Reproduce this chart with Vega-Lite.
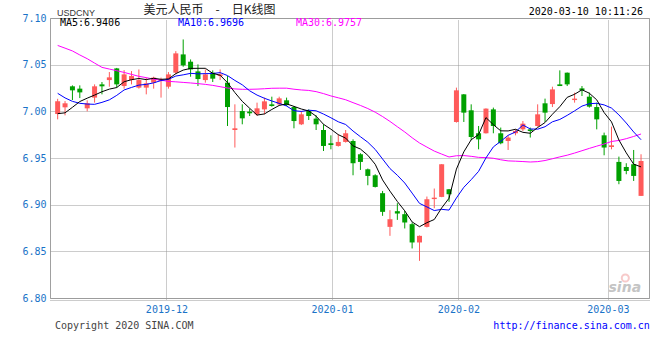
{
"$schema": "https://vega.github.io/schema/vega-lite/v6.json",
"width": 599, "height": 280,
"autosize": {"type": "none"},
"padding": {"left": 50, "top": 18, "right": 11, "bottom": 62},
"background": "white",
"config": {
"view": {"stroke": "#a0a0a0", "strokeWidth": 1},
"axisX": {"labelColor": "#1a73c8", "labelFont": "DejaVu Sans Mono", "labelFontSize": 10, "labelFlush": false, "labelPadding": 4, "ticks": false, "tickSize": 0, "domain": true, "domainDash": [1, 1], "domainColor": "#999999", "offset": 2, "grid": true, "gridDash": [1, 1], "gridColor": "#999999"},
"axisY": {"labelColor": "#1a73c8", "labelFont": "DejaVu Sans Mono", "labelFontSize": 10, "labelPadding": 4, "ticks": false, "tickSize": 0, "domain": false, "grid": true, "gridDash": [1, 1], "gridColor": "#999999"}
},
"datasets": {
"k": [
{"i":1,"o":6.9971,"h":7.0134,"l":6.9914,"c":7.0107,"ma5":6.9975,"ma10":7.0193,"ma30":7.0706},
{"i":2,"o":7.0043,"h":7.0110,"l":6.9957,"c":7.0086,"ma5":6.9984,"ma10":7.0144,"ma30":7.0677},
{"i":3,"o":7.0268,"h":7.0278,"l":7.0121,"c":7.0225,"ma5":7.0043,"ma10":7.0107,"ma30":7.0647},
{"i":4,"o":7.0243,"h":7.0278,"l":7.0142,"c":7.0203,"ma5":7.0105,"ma10":7.0086,"ma30":7.0604},
{"i":5,"o":7.0032,"h":7.0118,"l":7.0000,"c":7.0086,"ma5":7.0141,"ma10":7.0078,"ma30":7.0564},
{"i":6,"o":7.0147,"h":7.0289,"l":7.0093,"c":7.0268,"ma5":7.0174,"ma10":7.0075,"ma30":7.0517},
{"i":7,"o":7.0289,"h":7.0314,"l":7.0182,"c":7.0268,"ma5":7.0210,"ma10":7.0096,"ma30":7.0471},
{"i":8,"o":7.0335,"h":7.0421,"l":7.0264,"c":7.0364,"ma5":7.0238,"ma10":7.0123,"ma30":7.0453},
{"i":9,"o":7.0460,"h":7.0465,"l":7.0254,"c":7.0289,"ma5":7.0255,"ma10":7.0171,"ma30":7.0435},
{"i":10,"o":7.0271,"h":7.0442,"l":7.0243,"c":7.0396,"ma5":7.0317,"ma10":7.0229,"ma30":7.0417},
{"i":11,"o":7.0335,"h":7.0431,"l":7.0289,"c":7.0378,"ma5":7.0339,"ma10":7.0256,"ma30":7.0396},
{"i":12,"o":7.0254,"h":7.0449,"l":7.0243,"c":7.0335,"ma5":7.0352,"ma10":7.0281,"ma30":7.0375},
{"i":13,"o":7.0254,"h":7.0361,"l":7.0182,"c":7.0300,"ma5":7.0340,"ma10":7.0289,"ma30":7.0361},
{"i":14,"o":7.0307,"h":7.0371,"l":7.0243,"c":7.0361,"ma5":7.0354,"ma10":7.0305,"ma30":7.0344},
{"i":15,"o":7.0324,"h":7.0361,"l":7.0147,"c":7.0342,"ma5":7.0343,"ma10":7.0330,"ma30":7.0334},
{"i":16,"o":7.0264,"h":7.0421,"l":7.0243,"c":7.0396,"ma5":7.0347,"ma10":7.0343,"ma30":7.0321},
{"i":17,"o":7.0414,"h":7.0645,"l":7.0396,"c":7.0621,"ma5":7.0404,"ma10":7.0378,"ma30":7.0316},
{"i":18,"o":7.0610,"h":7.0770,"l":7.0478,"c":7.0492,"ma5":7.0442,"ma10":7.0391,"ma30":7.0310},
{"i":19,"o":7.0532,"h":7.0556,"l":7.0371,"c":7.0449,"ma5":7.0460,"ma10":7.0407,"ma30":7.0304},
{"i":20,"o":7.0428,"h":7.0503,"l":7.0271,"c":7.0346,"ma5":7.0461,"ma10":7.0402,"ma30":7.0297},
{"i":21,"o":7.0335,"h":7.0449,"l":7.0307,"c":7.0396,"ma5":7.0461,"ma10":7.0404,"ma30":7.0289},
{"i":22,"o":7.0414,"h":7.0439,"l":7.0314,"c":7.0350,"ma5":7.0407,"ma10":7.0405,"ma30":7.0278},
{"i":23,"o":7.0378,"h":7.0449,"l":7.0335,"c":7.0396,"ma5":7.0387,"ma10":7.0415,"ma30":7.0264},
{"i":24,"o":7.0307,"h":7.0378,"l":6.9843,"c":7.0046,"ma5":7.0307,"ma10":7.0383,"ma30":7.0250},
{"i":25,"o":6.9800,"h":7.0075,"l":6.9612,"c":6.9818,"ma5":7.0201,"ma10":7.0331,"ma30":7.0240},
{"i":26,"o":7.0003,"h":7.0075,"l":6.9861,"c":6.9925,"ma5":7.0107,"ma10":7.0284,"ma30":7.0236},
{"i":27,"o":6.9997,"h":7.0029,"l":6.9950,"c":6.9979,"ma5":7.0033,"ma10":7.0220,"ma30":7.0236},
{"i":28,"o":6.9968,"h":7.0093,"l":6.9950,"c":7.0032,"ma5":6.9960,"ma10":7.0174,"ma30":7.0238},
{"i":29,"o":7.0021,"h":7.0147,"l":6.9968,"c":7.0107,"ma5":6.9972,"ma10":7.0140,"ma30":7.0242},
{"i":30,"o":7.0075,"h":7.0157,"l":7.0050,"c":7.0057,"ma5":7.0020,"ma10":7.0111,"ma30":7.0247},
{"i":31,"o":7.0075,"h":7.0157,"l":7.0057,"c":7.0139,"ma5":7.0063,"ma10":7.0085,"ma30":7.0248},
{"i":32,"o":7.0118,"h":7.0147,"l":7.0057,"c":7.0067,"ma5":7.0080,"ma10":7.0057,"ma30":7.0248},
{"i":33,"o":7.0046,"h":7.0057,"l":6.9818,"c":6.9896,"ma5":7.0053,"ma10":7.0007,"ma30":7.0237},
{"i":34,"o":6.9861,"h":7.0003,"l":6.9853,"c":6.9968,"ma5":7.0025,"ma10":6.9999,"ma30":7.0229},
{"i":35,"o":7.0003,"h":7.0021,"l":6.9907,"c":6.9950,"ma5":7.0004,"ma10":7.0012,"ma30":7.0224},
{"i":36,"o":6.9922,"h":6.9957,"l":6.9800,"c":6.9861,"ma5":6.9948,"ma10":7.0006,"ma30":7.0211},
{"i":37,"o":6.9800,"h":6.9861,"l":6.9575,"c":6.9629,"ma5":6.9861,"ma10":6.9971,"ma30":7.0190},
{"i":38,"o":6.9658,"h":6.9743,"l":6.9593,"c":6.9639,"ma5":6.9809,"ma10":6.9931,"ma30":7.0165},
{"i":39,"o":6.9629,"h":6.9754,"l":6.9622,"c":6.9672,"ma5":6.9750,"ma10":6.9888,"ma30":7.0145},
{"i":40,"o":6.9672,"h":6.9800,"l":6.9665,"c":6.9765,"ma5":6.9713,"ma10":6.9859,"ma30":7.0124},
{"i":41,"o":6.9682,"h":6.9700,"l":6.9315,"c":6.9444,"ma5":6.9630,"ma10":6.9789,"ma30":7.0093},
{"i":42,"o":6.9540,"h":6.9551,"l":6.9372,"c":6.9458,"ma5":6.9596,"ma10":6.9728,"ma30":7.0063},
{"i":43,"o":6.9379,"h":6.9387,"l":6.9208,"c":6.9308,"ma5":6.9529,"ma10":6.9669,"ma30":7.0030},
{"i":44,"o":6.9315,"h":6.9326,"l":6.9184,"c":6.9190,"ma5":6.9433,"ma10":6.9592,"ma30":6.9991},
{"i":45,"o":6.9123,"h":6.9147,"l":6.8880,"c":6.8923,"ma5":6.9265,"ma10":6.9489,"ma30":6.9944},
{"i":46,"o":6.8762,"h":6.8941,"l":6.8666,"c":6.8844,"ma5":6.9145,"ma10":6.9387,"ma30":6.9892},
{"i":47,"o":6.8930,"h":6.9016,"l":6.8837,"c":6.8905,"ma5":6.9034,"ma10":6.9315,"ma30":6.9835},
{"i":48,"o":6.8898,"h":6.8933,"l":6.8745,"c":6.8809,"ma5":6.8934,"ma10":6.9232,"ma30":6.9779},
{"i":49,"o":6.8791,"h":6.8809,"l":6.8531,"c":6.8595,"ma5":6.8815,"ma10":6.9124,"ma30":6.9717},
{"i":50,"o":6.8595,"h":6.8670,"l":6.8398,"c":6.8666,"ma5":6.8764,"ma10":6.9014,"ma30":6.9661},
{"i":51,"o":6.8762,"h":6.9087,"l":6.8756,"c":6.9058,"ma5":6.8807,"ma10":6.8976,"ma30":6.9617},
{"i":52,"o":6.9060,"h":6.9173,"l":6.8962,"c":6.9075,"ma5":6.8841,"ma10":6.8937,"ma30":6.9574},
{"i":53,"o":6.9083,"h":6.9435,"l":6.9080,"c":6.9433,"ma5":6.8965,"ma10":6.8950,"ma30":6.9542},
{"i":54,"o":6.9165,"h":6.9168,"l":6.9030,"c":6.9112,"ma5":6.9069,"ma10":6.8942,"ma30":6.9511},
{"i":55,"o":6.9886,"h":7.0254,"l":6.9879,"c":7.0225,"ma5":6.9381,"ma10":6.9072,"ma30":6.9524},
{"i":56,"o":7.0182,"h":7.0185,"l":6.9886,"c":6.9986,"ma5":6.9566,"ma10":6.9186,"ma30":6.9526},
{"i":57,"o":7.0011,"h":7.0075,"l":6.9690,"c":6.9725,"ma5":6.9696,"ma10":6.9268,"ma30":6.9518},
{"i":58,"o":6.9765,"h":6.9843,"l":6.9593,"c":6.9700,"ma5":6.9750,"ma10":6.9357,"ma30":6.9507},
{"i":59,"o":6.9765,"h":7.0032,"l":6.9762,"c":7.0029,"ma5":6.9933,"ma10":6.9501,"ma30":6.9504},
{"i":60,"o":7.0021,"h":7.0040,"l":6.9765,"c":6.9843,"ma5":6.9857,"ma10":6.9619,"ma30":6.9497},
{"i":61,"o":6.9765,"h":6.9826,"l":6.9647,"c":6.9658,"ma5":6.9791,"ma10":6.9679,"ma30":6.9481},
{"i":62,"o":6.9682,"h":6.9743,"l":6.9586,"c":6.9719,"ma5":6.9790,"ma10":6.9743,"ma30":6.9469},
{"i":63,"o":6.9765,"h":6.9807,"l":6.9743,"c":6.9789,"ma5":6.9808,"ma10":6.9779,"ma30":6.9466},
{"i":64,"o":6.9807,"h":6.9896,"l":6.9789,"c":6.9868,"ma5":6.9775,"ma10":6.9854,"ma30":6.9462},
{"i":65,"o":6.9807,"h":6.9826,"l":6.9719,"c":6.9789,"ma5":6.9765,"ma10":6.9811,"ma30":6.9457},
{"i":66,"o":6.9843,"h":7.0075,"l":6.9836,"c":6.9968,"ma5":6.9827,"ma10":6.9809,"ma30":6.9461},
{"i":67,"o":7.0086,"h":7.0136,"l":6.9886,"c":6.9986,"ma5":6.9880,"ma10":6.9835,"ma30":6.9473},
{"i":68,"o":7.0078,"h":7.0264,"l":7.0046,"c":7.0235,"ma5":6.9969,"ma10":6.9888,"ma30":6.9492},
{"i":69,"o":7.0289,"h":7.0439,"l":7.0271,"c":7.0271,"ma5":7.0050,"ma10":6.9913,"ma30":6.9512},
{"i":70,"o":7.0414,"h":7.0416,"l":7.0271,"c":7.0289,"ma5":7.0150,"ma10":6.9957,"ma30":6.9530},
{"i":71,"o":7.0121,"h":7.0200,"l":7.0093,"c":7.0136,"ma5":7.0183,"ma10":7.0005,"ma30":6.9553},
{"i":72,"o":7.0246,"h":7.0271,"l":7.0164,"c":7.0225,"ma5":7.0231,"ma10":7.0056,"ma30":6.9578},
{"i":73,"o":7.0157,"h":7.0200,"l":7.0040,"c":7.0050,"ma5":7.0194,"ma10":7.0082,"ma30":6.9603},
{"i":74,"o":7.0046,"h":7.0093,"l":6.9807,"c":6.9914,"ma5":7.0123,"ma10":7.0086,"ma30":6.9627},
{"i":75,"o":6.9743,"h":6.9772,"l":6.9529,"c":6.9612,"ma5":6.9987,"ma10":7.0069,"ma30":6.9650},
{"i":76,"o":6.9618,"h":6.9836,"l":6.9593,"c":6.9636,"ma5":6.9887,"ma10":7.0035,"ma30":6.9677},
{"i":77,"o":6.9458,"h":6.9515,"l":6.9219,"c":6.9254,"ma5":6.9693,"ma10":6.9962,"ma30":6.9688},
{"i":78,"o":6.9404,"h":6.9444,"l":6.9326,"c":6.9361,"ma5":6.9555,"ma10":6.9875,"ma30":6.9707},
{"i":79,"o":6.9433,"h":6.9586,"l":6.9254,"c":6.9308,"ma5":6.9434,"ma10":6.9779,"ma30":6.9731},
{"i":80,"o":6.9094,"h":6.9540,"l":6.9094,"c":6.9468,"ma5":6.9405,"ma10":6.9696,"ma30":6.9757}
]
},
"encoding": {
"x": {"field": "i", "type": "quantitative", "scale": {"domain": [0.64, 80.4], "nice": false, "zero": false},
"axis": {"values": [15.73, 38.15, 55.27, 75.51], "labelExpr": "datum.value < 20 ? '2019-12' : datum.value < 40 ? '2020-01' : datum.value < 60 ? '2020-02' : '2020-03'", "title": null}}
},
"layer": [
{
"data": {"name": "k"},
"mark": {"type": "rule", "strokeWidth": 1},
"encoding": {
"y": {"field": "l", "type": "quantitative", "scale": {"domain": [6.8, 7.1], "nice": false, "zero": false},
"axis": {"values": [6.8, 6.85, 6.9, 6.95, 7.0, 7.05, 7.1], "format": ".2f", "title": null}},
"y2": {"field": "h"},
"color": {"condition": {"test": "datum.c >= datum.o", "value": "#ff5a5a"}, "value": "#00a000"}
}
},
{
"data": {"name": "k"},
"mark": {"type": "bar", "width": 5},
"encoding": {
"y": {"field": "o", "type": "quantitative", "scale": {"domain": [6.8, 7.1], "nice": false, "zero": false},
"axis": {"values": [6.8, 6.85, 6.9, 6.95, 7.0, 7.05, 7.1], "format": ".2f", "title": null}},
"y2": {"field": "c"},
"color": {"condition": {"test": "datum.c >= datum.o", "value": "#ff5a5a"}, "value": "#00a000"}
}
},
{
"data": {"name": "k"},
"mark": {"type": "line", "color": "#ff00ff", "strokeWidth": 1},
"encoding": {
"y": {"field": "ma30", "type": "quantitative", "scale": {"domain": [6.8, 7.1], "nice": false, "zero": false},
"axis": {"values": [6.8, 6.85, 6.9, 6.95, 7.0, 7.05, 7.1], "format": ".2f", "title": null}}
}
},
{
"data": {"name": "k"},
"mark": {"type": "line", "color": "#0000ff", "strokeWidth": 1},
"encoding": {
"y": {"field": "ma10", "type": "quantitative", "scale": {"domain": [6.8, 7.1], "nice": false, "zero": false},
"axis": {"values": [6.8, 6.85, 6.9, 6.95, 7.0, 7.05, 7.1], "format": ".2f", "title": null}}
}
},
{
"data": {"name": "k"},
"mark": {"type": "line", "color": "#000000", "strokeWidth": 1},
"encoding": {
"y": {"field": "ma5", "type": "quantitative", "scale": {"domain": [6.8, 7.1], "nice": false, "zero": false},
"axis": {"values": [6.8, 6.85, 6.9, 6.95, 7.0, 7.05, 7.1], "format": ".2f", "title": null}}
}
},
{
"data": {"values": [
{"i": 1.31, "p": 7.0914, "t": "MA5:6.9406", "g": "a"},
{"i": 17.28, "p": 7.0914, "t": "MA10:6.9696", "g": "b"},
{"i": 33.26, "p": 7.0914, "t": "MA30:6.9757", "g": "c"}
]},
"mark": {"type": "text", "align": "left", "baseline": "alphabetic", "font": "DejaVu Sans Mono", "fontSize": 10},
"encoding": {
"y": {"field": "p", "type": "quantitative", "scale": {"domain": [6.8, 7.1], "nice": false, "zero": false},
"axis": {"values": [6.8, 6.85, 6.9, 6.95, 7.0, 7.05, 7.1], "format": ".2f", "title": null}},
"text": {"field": "t"},
"color": {"field": "g", "type": "nominal", "scale": {"domain": ["a", "b", "c"], "range": ["#000000", "#0000ff", "#ff00ff"]}, "legend": null}
}
},
{
"data": {"values": [{"i": 0.91, "p": 7.1021, "t": "USDCNY"}]},
"mark": {"type": "text", "align": "left", "baseline": "alphabetic", "font": "Liberation Sans", "fontSize": 9, "color": "#333333"},
"encoding": {
"y": {"field": "p", "type": "quantitative", "scale": {"domain": [6.8, 7.1], "nice": false, "zero": false},
"axis": {"values": [6.8, 6.85, 6.9, 6.95, 7.0, 7.05, 7.1], "format": ".2f", "title": null}},
"text": {"field": "t"}
}
},
{
"data": {"values": [{"i": 12.62, "p": 7.1043, "t": "美元人民币　-　日K线图"}]},
"mark": {"type": "text", "align": "left", "baseline": "alphabetic", "font": "Noto Sans CJK SC", "fontSize": 12, "color": "#222222"},
"encoding": {
"y": {"field": "p", "type": "quantitative", "scale": {"domain": [6.8, 7.1], "nice": false, "zero": false},
"axis": {"values": [6.8, 6.85, 6.9, 6.95, 7.0, 7.05, 7.1], "format": ".2f", "title": null}},
"text": {"field": "t"}
}
},
{
"data": {"values": [
{"i": 80.27, "p": 7.1032, "t": "2020-03-10 10:11:26", "g": "r"},
{"i": 81.2, "p": 6.7673, "t": "http://finance.sina.com.cn", "g": "s"}
]},
"mark": {"type": "text", "align": "right", "baseline": "alphabetic", "font": "DejaVu Sans Mono", "fontSize": 10},
"encoding": {
"y": {"field": "p", "type": "quantitative", "scale": {"domain": [6.8, 7.1], "nice": false, "zero": false},
"axis": {"values": [6.8, 6.85, 6.9, 6.95, 7.0, 7.05, 7.1], "format": ".2f", "title": null}},
"text": {"field": "t"},
"color": {"field": "g", "type": "nominal", "scale": {"domain": ["r", "s"], "range": ["#111111", "#444444"]}, "legend": null}
}
},
{
"data": {"values": [{"i": 0.64, "p": 6.7673, "t": "Copyright 2020 SINA.COM"}]},
"mark": {"type": "text", "align": "left", "baseline": "alphabetic", "font": "DejaVu Sans Mono", "fontSize": 10, "color": "#444444"},
"encoding": {
"y": {"field": "p", "type": "quantitative", "scale": {"domain": [6.8, 7.1], "nice": false, "zero": false},
"axis": {"values": [6.8, 6.85, 6.9, 6.95, 7.0, 7.05, 7.1], "format": ".2f", "title": null}},
"text": {"field": "t"}
}
},
{
"data": {"values": [{"i": 77.87, "p": 6.8214}]},
"mark": {"type": "point", "shape": "circle", "size": 50, "filled": false, "strokeWidth": 2, "color": "#f5b5b5"},
"encoding": {
"y": {"field": "p", "type": "quantitative", "scale": {"domain": [6.8, 7.1], "nice": false, "zero": false},
"axis": {"values": [6.8, 6.85, 6.9, 6.95, 7.0, 7.05, 7.1], "format": ".2f", "title": null}}
}
},
{
"data": {"values": [{"i": 77.8, "p": 6.8064, "t": "sina"}]},
"mark": {"type": "text", "align": "center", "baseline": "alphabetic", "font": "DejaVu Sans", "fontSize": 14, "fontWeight": "bold", "fontStyle": "italic", "color": "#c4c4c4"},
"encoding": {
"y": {"field": "p", "type": "quantitative", "scale": {"domain": [6.8, 7.1], "nice": false, "zero": false},
"axis": {"values": [6.8, 6.85, 6.9, 6.95, 7.0, 7.05, 7.1], "format": ".2f", "title": null}},
"text": {"field": "t"}
}
}
]
}
